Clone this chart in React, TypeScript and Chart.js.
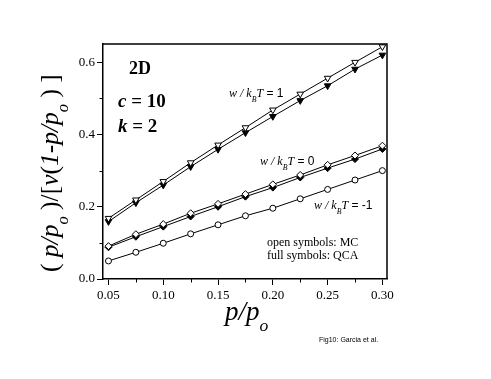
import { useEffect, useRef } from "react";
import { Chart, registerables } from "chart.js";

Chart.register(...registerables);

// ---- data ----
const pRatio = [0.05, 0.075, 0.1, 0.125, 0.15, 0.175, 0.2, 0.225, 0.25, 0.275, 0.3];
const w1MC = [0.168, 0.219, 0.27, 0.322, 0.371, 0.419, 0.468, 0.512, 0.556, 0.6, 0.643];
const w1QCA = [0.159, 0.211, 0.26, 0.311, 0.359, 0.405, 0.45, 0.494, 0.535, 0.581, 0.62];
const w0MC = [0.091, 0.124, 0.152, 0.182, 0.208, 0.235, 0.262, 0.288, 0.316, 0.342, 0.369];
const w0QCA = [0.088, 0.117, 0.145, 0.173, 0.2, 0.228, 0.253, 0.281, 0.307, 0.332, 0.36];
const wm1MC = [0.05, 0.074, 0.099, 0.125, 0.15, 0.175, 0.196, 0.222, 0.248, 0.274, 0.3];

const xMinorTicks = [0.075, 0.125, 0.175, 0.225, 0.275];
const yMinorTicks = [0.1, 0.3, 0.5];

const SERIF = '"Liberation Serif", "Times New Roman", serif';
const SANS = '"Liberation Sans", Arial, sans-serif';

type Seg = { t: string; it?: boolean; b?: boolean; sub?: boolean; fam?: string };

function drawRich(ctx: CanvasRenderingContext2D, segs: Seg[], x: number, y: number, size: number) {
  let cx = x;
  ctx.textAlign = "left";
  ctx.textBaseline = "alphabetic";
  ctx.fillStyle = "#000";
  for (const s of segs) {
    const sz = s.sub ? size * 0.65 : size;
    const fam = s.fam || SERIF;
    ctx.font = `${s.it ? "italic " : ""}${s.b ? "bold " : ""}${sz}px ${fam}`;
    const dy = s.sub ? size * 0.4 : 0;
    ctx.fillText(s.t, cx, y + dy);
    cx += ctx.measureText(s.t).width;
  }
}

const toXY = (ys: number[]) => pRatio.map((x, i) => ({ x, y: ys[i] }));

const textPlugin = {
  id: "texts",
  afterDraw(chart: any) {
    const ctx: CanvasRenderingContext2D = chart.ctx;
    const a = chart.chartArea;
    ctx.save();
    // frame top/right
    ctx.strokeStyle = "#000";
    ctx.lineWidth = 1.5;
    ctx.beginPath();
    ctx.moveTo(a.left, a.top);
    ctx.lineTo(a.right, a.top);
    ctx.lineTo(a.right, a.bottom);
    ctx.stroke();
    // minor ticks
    ctx.lineWidth = 1;
    const xs = chart.scales.x;
    const ys = chart.scales.y;
    ctx.beginPath();
    for (const v of xMinorTicks) {
      const px = Math.round(xs.getPixelForValue(v)) + 0.5;
      ctx.moveTo(px, a.bottom);
      ctx.lineTo(px, a.bottom + 3.5);
    }
    for (const v of yMinorTicks) {
      const py = Math.round(ys.getPixelForValue(v)) + 0.5;
      ctx.moveTo(a.left, py);
      ctx.lineTo(a.left - 3.5, py);
    }
    ctx.stroke();

    // annotations
    drawRich(ctx, [{ t: "2D", b: true }], 129, 74, 18);
    drawRich(ctx, [{ t: "c", it: true, b: true }, { t: " = 10", b: true }], 118, 107, 19);
    drawRich(ctx, [{ t: "k", it: true, b: true }, { t: " = 2", b: true }], 118, 132, 19);

    const wLabel = (val: string): Seg[] => [
      { t: "w / k", it: true },
      { t: "B", it: true, sub: true },
      { t: "T", it: true },
      { t: " = " + val, fam: SANS },
    ];
    drawRich(ctx, wLabel("1"), 229, 97, 12);
    drawRich(ctx, wLabel("0"), 260, 165, 12);
    drawRich(ctx, wLabel("-1"), 314, 209, 12);

    drawRich(ctx, [{ t: "open symbols: MC" }], 267, 246, 12);
    drawRich(ctx, [{ t: "full symbols: QCA" }], 267, 259, 12);

    // x title
    drawRich(ctx, [{ t: "p/p", it: true }, { t: "o", it: true, sub: true }], 225, 320, 27);

    // y title
    ctx.save();
    ctx.translate(58, 272);
    ctx.rotate(-Math.PI / 2);
    drawRich(
      ctx,
      [
        { t: "( " },
        { t: "p/p", it: true },
        { t: "o", it: true, sub: true },
        { t: " )/[" },
        { t: "v", it: true },
        { t: "(" },
        { t: "1-p/p", it: true },
        { t: "o", it: true, sub: true },
        { t: " ) ]" },
      ],
      0,
      0,
      25.5
    );
    ctx.restore();

    drawRich(ctx, [{ t: "Fig10: Garcia et al.", fam: SANS }], 319, 341.5, 7);
    ctx.restore();
  },
};

export default function App() {
  const ref = useRef<HTMLCanvasElement | null>(null);
  useEffect(() => {
    if (!ref.current) return;
    const line = { borderColor: "#000", borderWidth: 1, pointBorderColor: "#000", pointBorderWidth: 1, showLine: true };
    const chart = new Chart(ref.current, {
      type: "scatter",
      data: {
        datasets: [
          { ...line, label: "w=1 MC", data: toXY(w1MC), pointStyle: "triangle", rotation: 180, pointRadius: 3.8, pointBackgroundColor: "#fff" },
          { ...line, label: "w=1 QCA", data: toXY(w1QCA), pointStyle: "triangle", rotation: 180, pointRadius: 3.8, pointBackgroundColor: "#000" },
          { ...line, label: "w=0 MC", data: toXY(w0MC), pointStyle: "rectRot", pointRadius: 3.5, pointBackgroundColor: "#fff" },
          { ...line, label: "w=0 QCA", data: toXY(w0QCA), pointStyle: "rectRot", pointRadius: 3.5, pointBackgroundColor: "#000" },
          { ...line, label: "w=-1 MC", data: toXY(wm1MC), pointStyle: "circle", pointRadius: 3, pointBackgroundColor: "#fff" },
        ] as any,
      },
      options: {
        animation: false,
        responsive: false,
        devicePixelRatio: 1,
        layout: { padding: { top: 44, right: 104, left: 0, bottom: 0 } },
        plugins: { legend: { display: false }, tooltip: { enabled: false } },
        scales: {
          x: {
            type: "linear",
            min: 0.045,
            max: 0.3042,
            border: { display: true, color: "#000", width: 1.5 },
            grid: { drawOnChartArea: false, drawTicks: true, tickLength: 6, color: "#000", lineWidth: 1 },
            ticks: {
              stepSize: 0.05,
              includeBounds: false,
              padding: 3,
              color: "#000",
              font: { family: SERIF, size: 13 },
              maxRotation: 0,
              callback: (v: any) => Number(v).toFixed(2),
            },
            afterFit: (s: any) => {
              s.height = 100;
            },
          },
          y: {
            type: "linear",
            min: 0,
            max: 0.6506,
            border: { display: true, color: "#000", width: 1.5 },
            grid: { drawOnChartArea: false, drawTicks: true, tickLength: 6, color: "#000", lineWidth: 1 },
            ticks: {
              stepSize: 0.2,
              includeBounds: false,
              padding: 2,
              color: "#000",
              font: { family: SERIF, size: 13 },
              callback: (v: any) => Number(v).toFixed(1),
            },
            afterFit: (s: any) => {
              s.width = 103;
            },
          },
        },
      } as any,
      plugins: [textPlugin],
    });
    return () => chart.destroy();
  }, []);
  return (
    <div style={{ position: "absolute", left: 0, top: 0, width: 491, height: 379, background: "#fff" }}>
      <canvas ref={ref} width={491} height={379} />
    </div>
  );
}
